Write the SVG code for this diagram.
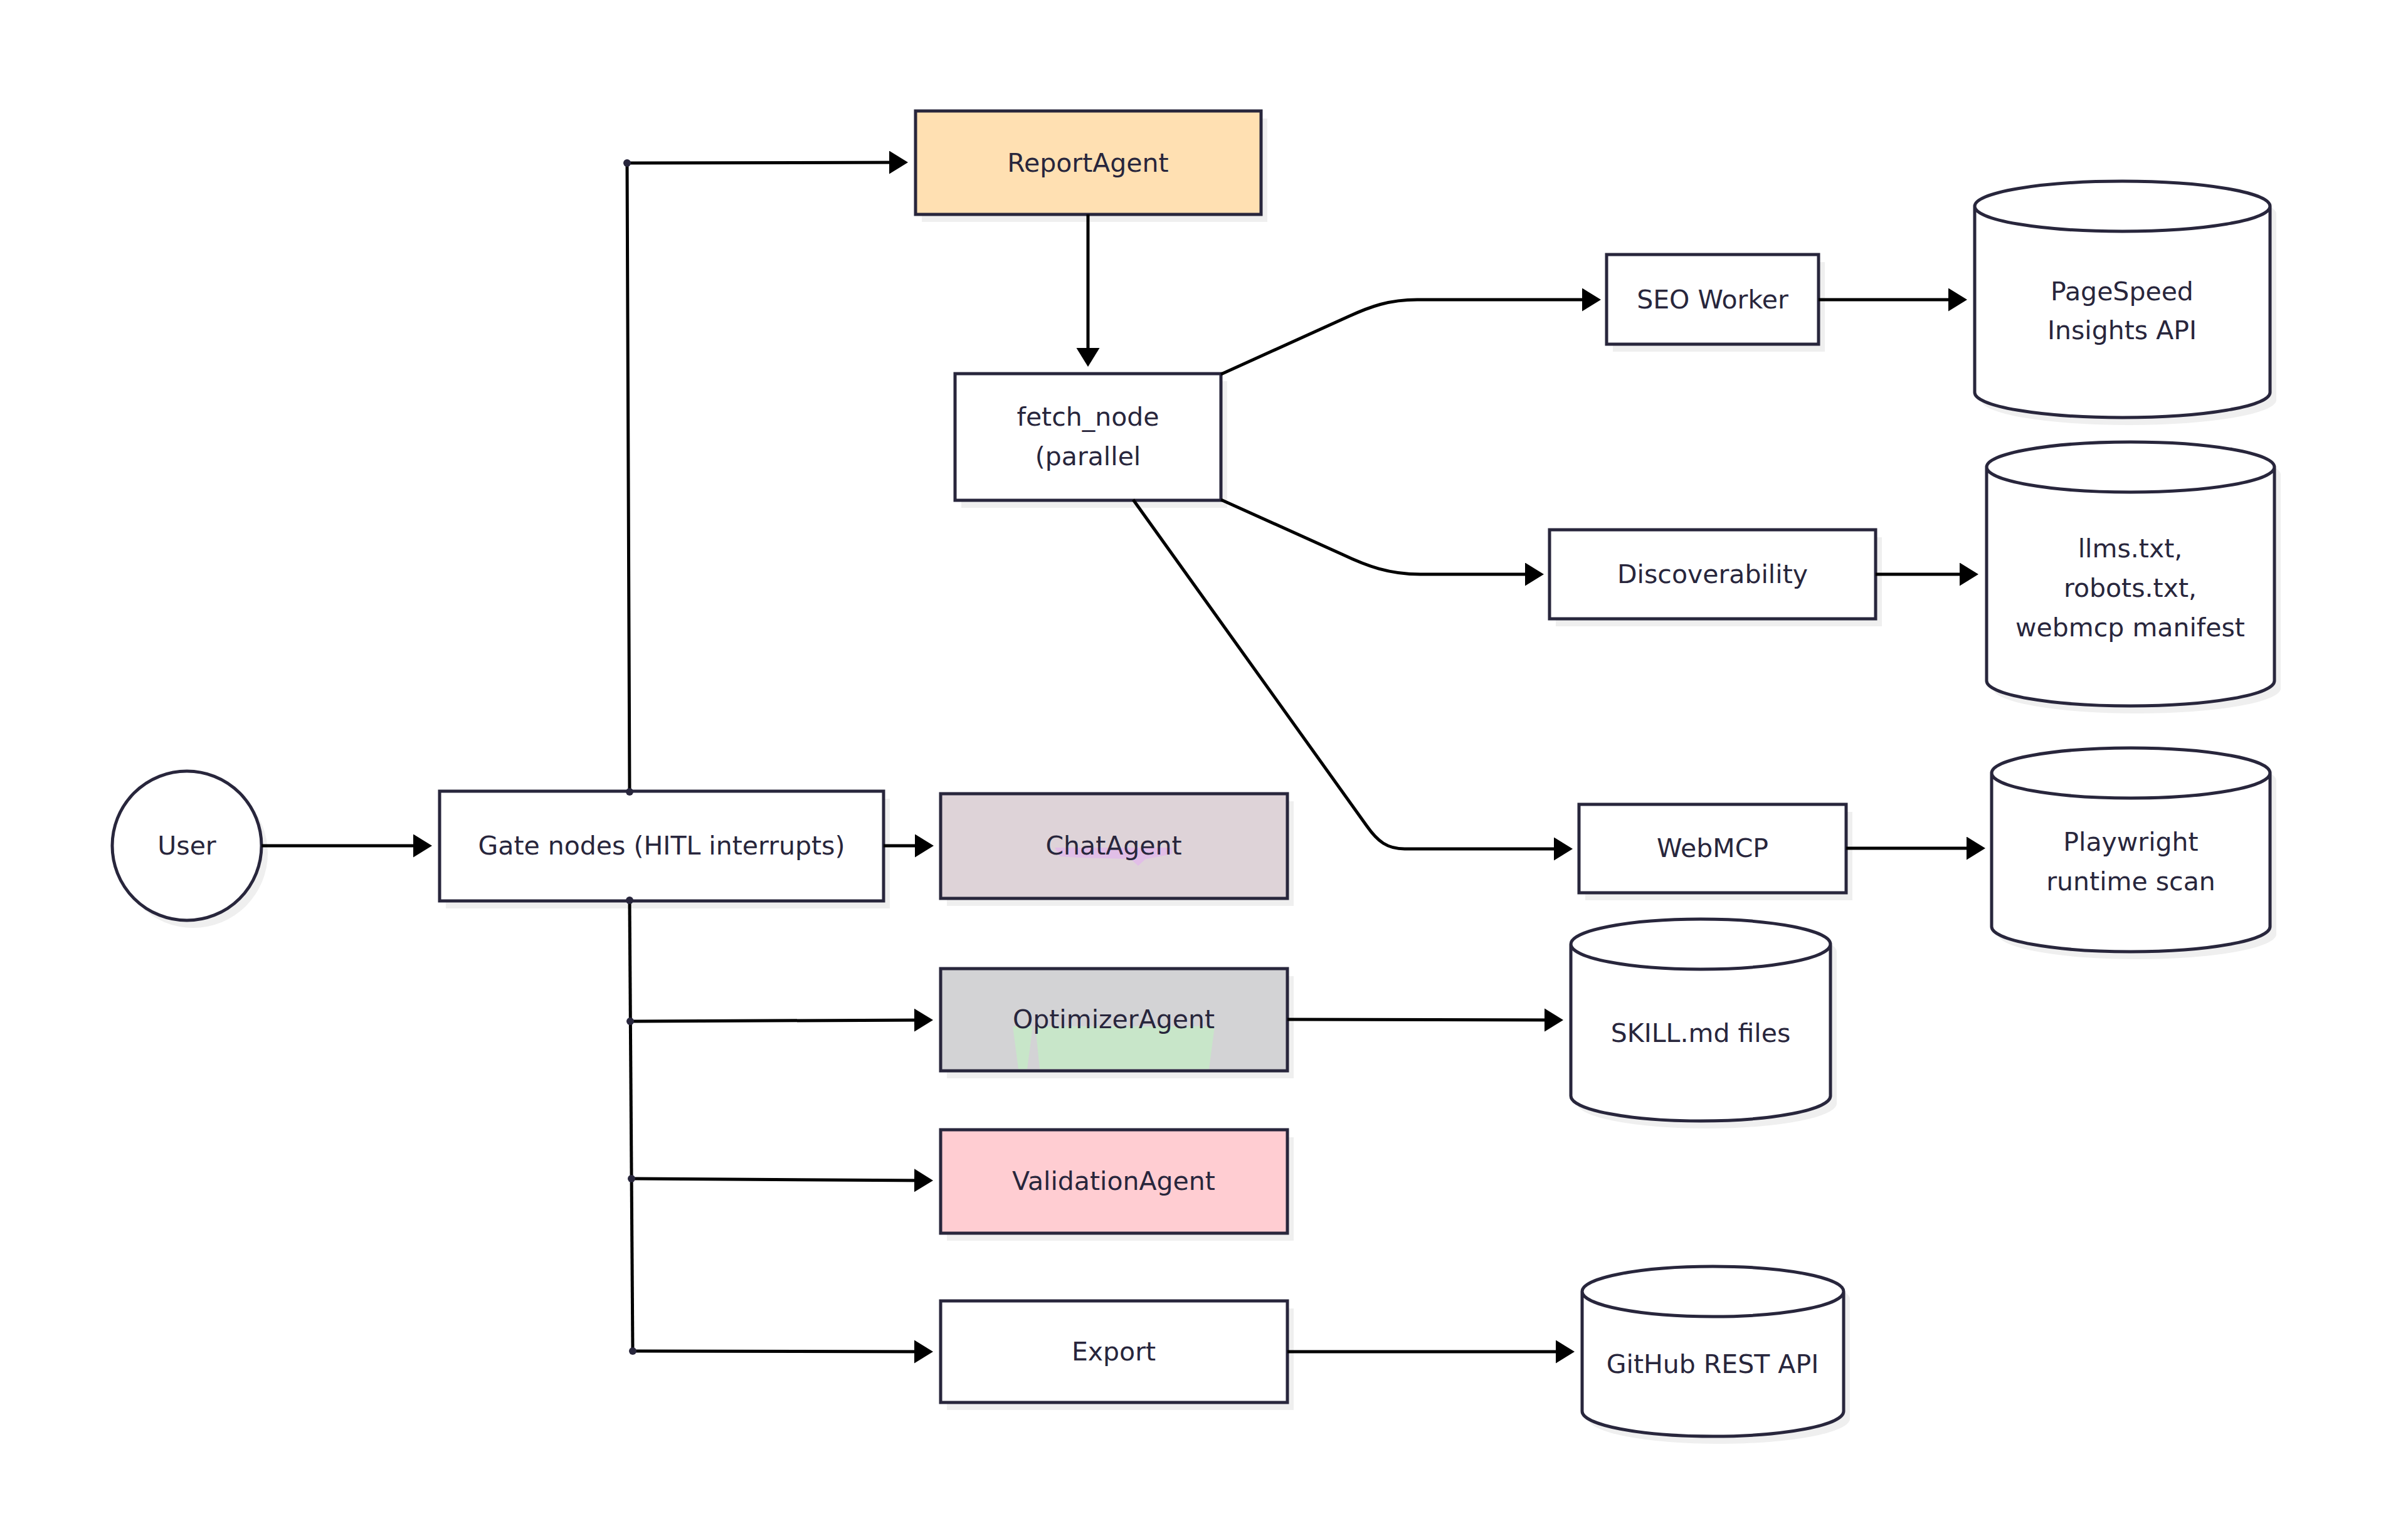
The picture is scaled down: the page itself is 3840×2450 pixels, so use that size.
<svg xmlns="http://www.w3.org/2000/svg" width="3840" height="2450" viewBox="0 0 3840 2450">
<style>
.bg{fill:#ffffff}
.box{stroke:#28263C;stroke-width:5}
.plain{fill:#ffffff}
.shadow{fill:#EFEFEF}
.lbl{font-family:"DejaVu Sans","Liberation Sans",sans-serif;font-size:41px;fill:#28263C;text-anchor:middle}
.edge{fill:none;stroke:#000000;stroke-width:5}
.dot{fill:#28263C}
</style>
<defs>
<marker id="arr" markerUnits="userSpaceOnUse" markerWidth="32" markerHeight="40" refX="20" refY="18.5" orient="auto" viewBox="0 0 32 40">
<path d="M0,0 L30,18.5 L0,37 Z" fill="#000000"/>
</marker>
</defs>
<rect class="bg" x="0" y="0" width="3840" height="2450"/>

<g id="user">
<circle class="shadow" cx="308" cy="1361" r="119"/>
<circle class="box plain" cx="298" cy="1349" r="119"/>
<text class="lbl" x="298" y="1363">User</text>
</g>

<g id="gate">
<rect class="shadow" x="711" y="1274" width="708" height="175"/>
<rect class="box plain" x="701" y="1262" width="708" height="175"/>
<text class="lbl" x="1055" y="1363">Gate nodes (HITL interrupts)</text>
</g>

<g id="reportagent">
<rect class="shadow" x="1470" y="189" width="551" height="165"/>
<rect class="box" fill="#FFE0B2" x="1460" y="177" width="551" height="165"/>
<text class="lbl" x="1735" y="274">ReportAgent</text>
</g>

<g id="fetch_node">
<rect class="shadow" x="1533" y="608" width="424" height="202"/>
<rect class="box plain" x="1523" y="596" width="424" height="202"/>
<text class="lbl" x="1735" y="679">fetch_node</text>
<text class="lbl" x="1735" y="742">(parallel</text>
</g>

<g id="chatagent">
<rect class="shadow" x="1510" y="1278" width="553" height="167"/>
<rect class="box" fill="#DED3D8" x="1500" y="1266" width="553" height="167"/>
<path fill="#E1BEE7" d="M1682,1352 L1869,1352 L1869,1362 L1840,1368 L1827,1370 L1815,1381 L1803,1370 L1720,1368 L1690,1366 Z"/>
<text class="lbl" x="1776" y="1363">ChatAgent</text>
</g>

<g id="optimizeragent">
<rect class="shadow" x="1510" y="1557" width="553" height="163"/>
<rect class="box" fill="#D3D3D5" x="1500" y="1545" width="553" height="163"/>
<path fill="#C8E6C9" d="M1615,1637 L1647,1637 L1638,1705 L1624,1705 Z M1651,1637 L1937,1637 L1928,1705 L1658,1705 Z"/>
<text class="lbl" x="1776" y="1640">OptimizerAgent</text>
</g>

<g id="validationagent">
<rect class="shadow" x="1510" y="1814" width="553" height="165"/>
<rect class="box" fill="#FFCDD2" x="1500" y="1802" width="553" height="165"/>
<text class="lbl" x="1776" y="1898">ValidationAgent</text>
</g>

<g id="export">
<rect class="shadow" x="1510" y="2087" width="553" height="162"/>
<rect class="box plain" x="1500" y="2075" width="553" height="162"/>
<text class="lbl" x="1776" y="2170">Export</text>
</g>

<g id="seoworker">
<rect class="shadow" x="2572" y="418" width="338" height="143"/>
<rect class="box plain" x="2562" y="406" width="338" height="143"/>
<text class="lbl" x="2731" y="492">SEO Worker</text>
</g>

<g id="discoverability">
<rect class="shadow" x="2481" y="857" width="520" height="142"/>
<rect class="box plain" x="2471" y="845" width="520" height="142"/>
<text class="lbl" x="2731" y="930">Discoverability</text>
</g>

<g id="webmcp">
<rect class="shadow" x="2528" y="1295" width="426" height="141"/>
<rect class="box plain" x="2518" y="1283" width="426" height="141"/>
<text class="lbl" x="2731" y="1367">WebMCP</text>
</g>

<g id="pagespeed">
<path class="shadow" transform="translate(10,12)" d="M3149,329 a235.5,40 0 0 0 471,0 a235.5,40 0 0 0 -471,0 l0,297 a235.5,40 0 0 0 471,0 l0,-297"/>
<path class="box plain" d="M3149,329 a235.5,40 0 0 0 471,0 a235.5,40 0 0 0 -471,0 l0,297 a235.5,40 0 0 0 471,0 l0,-297"/>
<text class="lbl" x="3384" y="479">PageSpeed</text>
<text class="lbl" x="3384" y="541">Insights API</text>
</g>

<g id="llms">
<path class="shadow" transform="translate(10,12)" d="M3168,745 a229.5,40 0 0 0 459,0 a229.5,40 0 0 0 -459,0 l0,341 a229.5,40 0 0 0 459,0 l0,-341"/>
<path class="box plain" d="M3168,745 a229.5,40 0 0 0 459,0 a229.5,40 0 0 0 -459,0 l0,341 a229.5,40 0 0 0 459,0 l0,-341"/>
<text class="lbl" x="3397" y="889">llms.txt,</text>
<text class="lbl" x="3397" y="952">robots.txt,</text>
<text class="lbl" x="3397" y="1015">webmcp manifest</text>
</g>

<g id="playwright">
<path class="shadow" transform="translate(10,12)" d="M3176,1233 a222,40 0 0 0 444,0 a222,40 0 0 0 -444,0 l0,245 a222,40 0 0 0 444,0 l0,-245"/>
<path class="box plain" d="M3176,1233 a222,40 0 0 0 444,0 a222,40 0 0 0 -444,0 l0,245 a222,40 0 0 0 444,0 l0,-245"/>
<text class="lbl" x="3398" y="1357">Playwright</text>
<text class="lbl" x="3398" y="1420">runtime scan</text>
</g>

<g id="skill">
<path class="shadow" transform="translate(10,12)" d="M2505,1506 a207,40 0 0 0 414,0 a207,40 0 0 0 -414,0 l0,242 a207,40 0 0 0 414,0 l0,-242"/>
<path class="box plain" d="M2505,1506 a207,40 0 0 0 414,0 a207,40 0 0 0 -414,0 l0,242 a207,40 0 0 0 414,0 l0,-242"/>
<text class="lbl" x="2712" y="1662">SKILL.md files</text>
</g>

<g id="github">
<path class="shadow" transform="translate(10,12)" d="M2523,2060 a208.5,40 0 0 0 417,0 a208.5,40 0 0 0 -417,0 l0,191 a208.5,40 0 0 0 417,0 l0,-191"/>
<path class="box plain" d="M2523,2060 a208.5,40 0 0 0 417,0 a208.5,40 0 0 0 -417,0 l0,191 a208.5,40 0 0 0 417,0 l0,-191"/>
<text class="lbl" x="2731" y="2190">GitHub REST API</text>
</g>

<g id="connectors">
<path class="edge" d="M417,1349 L679,1349" marker-end="url(#arr)"/>
<path class="edge" d="M1004,1262 L1000,260 L1438,259" marker-end="url(#arr)"/>
<path class="edge" d="M1409,1349 L1479,1349" marker-end="url(#arr)"/>
<path class="edge" d="M1004,1437 L1009,2155"/>
<path class="edge" d="M1005,1629 L1478,1627" marker-end="url(#arr)"/>
<path class="edge" d="M1007,1880 L1478,1883" marker-end="url(#arr)"/>
<path class="edge" d="M1009,2155 L1478,2156" marker-end="url(#arr)"/>
<path class="edge" d="M1735,342 L1735,575" marker-end="url(#arr)"/>
<path class="edge" d="M1947,597 L2150,505 C2185,489 2215,478 2260,478 L2543,478" marker-end="url(#arr)"/>
<path class="edge" d="M1947,797 L2140,884 C2180,903 2215,916 2265,916 L2452,916" marker-end="url(#arr)"/>
<path class="edge" d="M1807,797 L2180,1318 C2197,1342 2212,1354 2240,1354 L2498,1354" marker-end="url(#arr)"/>
<path class="edge" d="M2900,478 L3127,478" marker-end="url(#arr)"/>
<path class="edge" d="M2991,916 L3145,916" marker-end="url(#arr)"/>
<path class="edge" d="M2944,1353 L3156,1353" marker-end="url(#arr)"/>
<path class="edge" d="M2053,1626 L2483,1627" marker-end="url(#arr)"/>
<path class="edge" d="M2053,2156 L2501,2156" marker-end="url(#arr)"/>
<circle class="dot" cx="1000" cy="260" r="6"/>
<circle class="dot" cx="1004" cy="1263" r="6"/>
<circle class="dot" cx="1004" cy="1436" r="6"/>
<circle class="dot" cx="1005" cy="1629" r="6"/>
<circle class="dot" cx="1007" cy="1880" r="6"/>
<circle class="dot" cx="1009" cy="2155" r="6"/>
</g>
</svg>
